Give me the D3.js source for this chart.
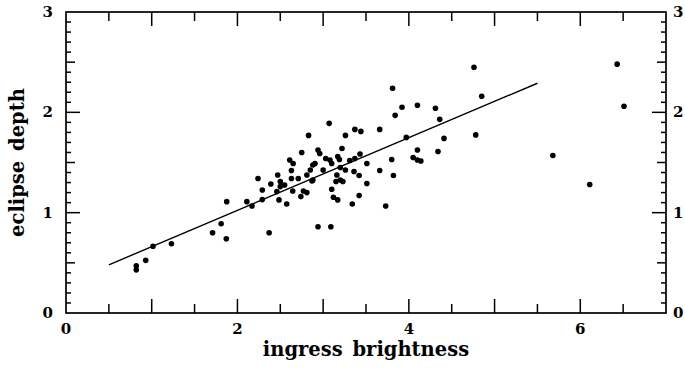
<!DOCTYPE html>
<html>
<head>
<meta charset="utf-8">
<script src="https://d3js.org/d3.v7.min.js"></script>
<style>
  body { margin: 0; background: #fff; }
  svg { display: block; }
  .tick-label { font-family: "DejaVu Serif", serif; font-weight: bold; font-size: 15px; fill: #000; }
  .axis-title { font-family: "DejaVu Serif", serif; font-weight: bold; font-size: 19.5px; fill: #000; word-spacing: 3px; }
</style>
</head>
<body>
<svg id="chart" width="685" height="369"></svg>
<script>
// ingress brightness vs eclipse depth
const ingress = [0.82, 0.82, 0.93, 1.015, 1.23, 1.71, 1.81, 1.87, 1.875, 2.11,
  2.17, 2.29, 2.29, 2.37, 2.39, 2.485, 2.575, 2.46, 2.50, 2.55,
  2.645, 2.74, 2.77, 2.81, 2.94, 3.09, 3.10, 3.12, 3.17, 3.34,
  3.42, 3.51, 3.73, 2.87, 3.15, 3.23, 3.84, 3.07, 2.83, 3.26,
  3.37, 3.44, 3.66, 3.97, 2.75, 2.94, 2.96, 3.22, 3.03, 3.08,
  3.10, 3.17, 3.19, 2.905, 2.88, 2.85, 3.00, 3.31, 3.37, 3.43,
  3.51, 3.20, 3.26, 3.36, 3.42, 3.16, 3.80, 3.66, 3.82, 3.20,
  2.81, 2.88, 2.61, 2.65, 2.63, 2.24, 2.47, 2.50, 2.63, 2.71,
  4.76, 3.81, 4.85, 3.92, 4.10, 4.31, 4.36, 4.41, 4.78, 4.10,
  4.34, 4.05, 4.10, 4.14, 5.68, 6.43, 6.51, 6.11];
const depth = [0.47, 0.43, 0.525, 0.665, 0.69, 0.80, 0.89, 0.74, 1.11, 1.11,
  1.067, 1.13, 1.226, 0.80, 1.286, 1.127, 1.087, 1.21, 1.26, 1.276,
  1.216, 1.16, 1.216, 1.20, 0.86, 0.86, 1.233, 1.153, 1.127, 1.087,
  1.17, 1.29, 1.067, 1.316, 1.31, 1.31, 1.97, 1.89, 1.77, 1.77,
  1.83, 1.81, 1.83, 1.75, 1.60, 1.625, 1.59, 1.64, 1.54, 1.525,
  1.49, 1.56, 1.53, 1.49, 1.475, 1.425, 1.425, 1.52, 1.54, 1.585,
  1.49, 1.45, 1.425, 1.41, 1.37, 1.376, 1.53, 1.42, 1.37, 1.326,
  1.376, 1.326, 1.525, 1.49, 1.42, 1.34, 1.376, 1.31, 1.34, 1.34,
  2.45, 2.24, 2.16, 2.05, 2.07, 2.04, 1.93, 1.74, 1.775, 1.625,
  1.61, 1.55, 1.525, 1.515, 1.57, 2.48, 2.06, 1.28];
// fitted line end points
const fitX = [0.5, 5.5];
const fitY = [0.48, 2.29];

const xLabels = [0, 2, 4, 6];
const yLabels = [0, 1, 2, 3];

const svg = d3.select("#chart");
const m = {left: 66, right: 666, top: 12, bottom: 313};

const x = d3.scaleLinear().domain([0, 7]).range([m.left, m.right]);
const y = d3.scaleLinear().domain([0, 3]).range([m.bottom, m.top]);

const g = svg.append("g");

// frame
g.append("rect")
  .attr("x", m.left).attr("y", m.top)
  .attr("width", m.right - m.left).attr("height", m.bottom - m.top)
  .attr("fill", "none").attr("stroke", "#000").attr("stroke-width", 1.7);

// x ticks on bottom and top, pointing inward
const xTicks = d3.range(0.5, 7, 0.5);
xTicks.forEach(v => {
  const len = Number.isInteger(v) ? 14 : 9;
  g.append("line").attr("x1", x(v)).attr("x2", x(v))
    .attr("y1", m.bottom).attr("y2", m.bottom - len)
    .attr("stroke", "#000").attr("stroke-width", 1.5);
  g.append("line").attr("x1", x(v)).attr("x2", x(v))
    .attr("y1", m.top).attr("y2", m.top + len)
    .attr("stroke", "#000").attr("stroke-width", 1.5);
});

// y ticks on left and right
const yTicks = d3.range(1, 30).map(i => i / 10);
yTicks.forEach((v, i) => {
  const k = i + 1;
  const len = k % 10 === 0 ? 14 : (k % 5 === 0 ? 9 : 5);
  g.append("line").attr("x1", m.left).attr("x2", m.left + len)
    .attr("y1", y(v)).attr("y2", y(v))
    .attr("stroke", "#000").attr("stroke-width", 1.5);
  g.append("line").attr("x1", m.right).attr("x2", m.right - len)
    .attr("y1", y(v)).attr("y2", y(v))
    .attr("stroke", "#000").attr("stroke-width", 1.5);
});

// tick labels
g.selectAll(".xl").data(xLabels).enter().append("text")
  .attr("class", "tick-label")
  .attr("x", d => x(d)).attr("y", m.bottom + 21)
  .attr("text-anchor", "middle")
  .text(d => d);

g.selectAll(".yl").data(yLabels).enter().append("text")
  .attr("class", "tick-label")
  .attr("x", m.left - 13).attr("y", d => y(d) + 5)
  .attr("text-anchor", "end")
  .text(d => d);

g.selectAll(".yr").data(yLabels).enter().append("text")
  .attr("class", "tick-label")
  .attr("x", m.right + 7).attr("y", d => y(d) + 5)
  .attr("text-anchor", "start")
  .text(d => d);

// axis titles
g.append("text").attr("class", "axis-title")
  .attr("x", (m.left + m.right) / 2).attr("y", 356)
  .attr("text-anchor", "middle")
  .text("ingress brightness");

g.append("text").attr("class", "axis-title")
  .attr("transform", `translate(24,${(m.top + m.bottom) / 2}) rotate(-90)`)
  .attr("text-anchor", "middle")
  .text("eclipse depth");

// fit line
g.append("line")
  .attr("x1", x(fitX[0])).attr("y1", y(fitY[0]))
  .attr("x2", x(fitX[1])).attr("y2", y(fitY[1]))
  .attr("stroke", "#000").attr("stroke-width", 1.4);

// points
g.selectAll(".pt").data(d3.range(ingress.length)).enter().append("circle")
  .attr("cx", i => x(ingress[i]))
  .attr("cy", i => y(depth[i]))
  .attr("r", 2.8)
  .attr("fill", "#000");
</script>
</body>
</html>
